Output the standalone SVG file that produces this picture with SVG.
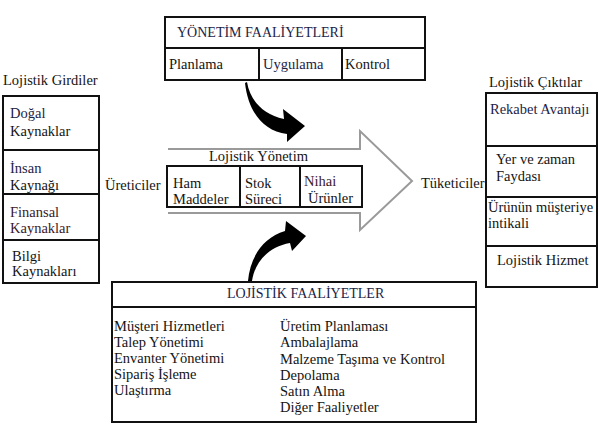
<svg xmlns="http://www.w3.org/2000/svg" width="599" height="424" viewBox="0 0 599 424" font-family="Liberation Serif, Times New Roman, Tinos, serif" font-size="14.5">
<style>
  text { fill: #141414; }
  text.b { fill: #1c2447; }
  text.r { fill: #3a1a2a; }
  .box { fill: #fff; stroke: #111; stroke-width: 2; }
  .div { stroke: #111; stroke-width: 2; fill: none; }
  .big { fill: none; stroke: #9a9a9a; stroke-width: 2; stroke-linejoin: miter; }
  .curve { fill: #000; stroke: none; }
</style>
<rect width="599" height="424" fill="#fff"/>

<g id="connectors">
  <path class="big" d="M168 149 L360 149 L360 131 L412 181 L360 230 L360 213 L168 213"/>
  <path class="curve" d="M247 82 C250 100 262 114 284 119 L283 109 L305 126 L287 142 L287 134 C262 131 248 110 245 83 Z"/>
  <path class="curve" d="M248 281 C250 258 262 238 285 231 L286 221 L306 236 L292 251 L290 243 C268 247 255 262 252 281 Z"/>
</g>

<g id="yonetim-faaliyetleri">
  <rect class="box" x="165" y="17" width="260" height="63"/>
  <line class="div" x1="165" y1="48" x2="425" y2="48"/>
  <line class="div" x1="259" y1="48" x2="259" y2="80"/>
  <line class="div" x1="342" y1="48" x2="342" y2="80"/>
  <text class="b" x="177" y="37" font-size="14">YÖNETİM FAALİYETLERİ</text>
  <text x="169" y="69">Planlama</text>
  <text class="b" x="263" y="69">Uygulama</text>
  <text x="345" y="69">Kontrol</text>
</g>

<g id="lojistik-girdiler">
  <text x="3" y="85">Lojistik Girdiler</text>
  <rect class="box" x="3" y="96" width="96" height="187"/>
  <line class="div" x1="3" y1="150" x2="99" y2="150"/>
  <line class="div" x1="3" y1="194" x2="99" y2="194"/>
  <line class="div" x1="3" y1="240" x2="99" y2="240"/>
  <text class="b" x="10" y="118">Doğal</text>
  <text x="10" y="136">Kaynaklar</text>
  <text class="b" x="10" y="173">İnsan</text>
  <text x="10" y="190">Kaynağı</text>
  <text class="r" x="10" y="217">Finansal</text>
  <text class="r" x="10" y="233">Kaynaklar</text>
  <text x="12" y="261">Bilgi</text>
  <text x="12" y="276">Kaynakları</text>
</g>

<g id="ureticiler">
  <text x="105" y="190">Üreticiler</text>
</g>

<g id="lojistik-yonetim">
  <text x="209" y="161">Lojistik Yönetim</text>
  <rect class="box" x="167" y="166" width="195" height="41"/>
  <line class="div" x1="240" y1="166" x2="240" y2="207"/>
  <line class="div" x1="300" y1="166" x2="300" y2="207"/>
  <text x="173" y="188">Ham</text>
  <text x="173" y="204">Maddeler</text>
  <text x="245" y="188">Stok</text>
  <text x="245" y="204">Süreci</text>
  <text class="r" x="304" y="186">Nihai</text>
  <text x="308" y="203">Ürünler</text>
</g>

<g id="tuketiciler">
  <text x="421" y="188">Tüketiciler</text>
</g>

<g id="lojistik-ciktilar">
  <text x="489" y="87">Lojistik Çıktılar</text>
  <rect class="box" x="486" y="93" width="111" height="194"/>
  <line class="div" x1="486" y1="146" x2="597" y2="146"/>
  <line class="div" x1="486" y1="197" x2="597" y2="197"/>
  <line class="div" x1="486" y1="246" x2="597" y2="246"/>
  <text class="b" x="490" y="114">Rekabet Avantajı</text>
  <text x="496" y="164">Yer ve zaman</text>
  <text x="496" y="181">Faydası</text>
  <text x="488" y="212">Ürünün müşteriye</text>
  <text x="488" y="228">intikali</text>
  <text x="497" y="265">Lojistik Hizmet</text>
</g>

<g id="lojistik-faaliyetler">
  <rect class="box" x="112" y="282" width="364" height="140"/>
  <line class="div" x1="112" y1="307" x2="476" y2="307"/>
  <text class="b" x="227" y="298" font-size="14">LOJİSTİK FAALİYETLER</text>
  <text x="114" y="331">Müşteri Hizmetleri</text>
  <text x="114" y="347">Talep Yönetimi</text>
  <text x="114" y="363">Envanter Yönetimi</text>
  <text x="114" y="379">Sipariş İşleme</text>
  <text x="114" y="395">Ulaştırma</text>
  <text x="280" y="331">Üretim Planlaması</text>
  <text x="280" y="347">Ambalajlama</text>
  <text x="280" y="364">Malzeme Taşıma ve Kontrol</text>
  <text x="280" y="380">Depolama</text>
  <text x="280" y="396">Satın Alma</text>
  <text x="280" y="412">Diğer Faaliyetler</text>
</g>
</svg>
